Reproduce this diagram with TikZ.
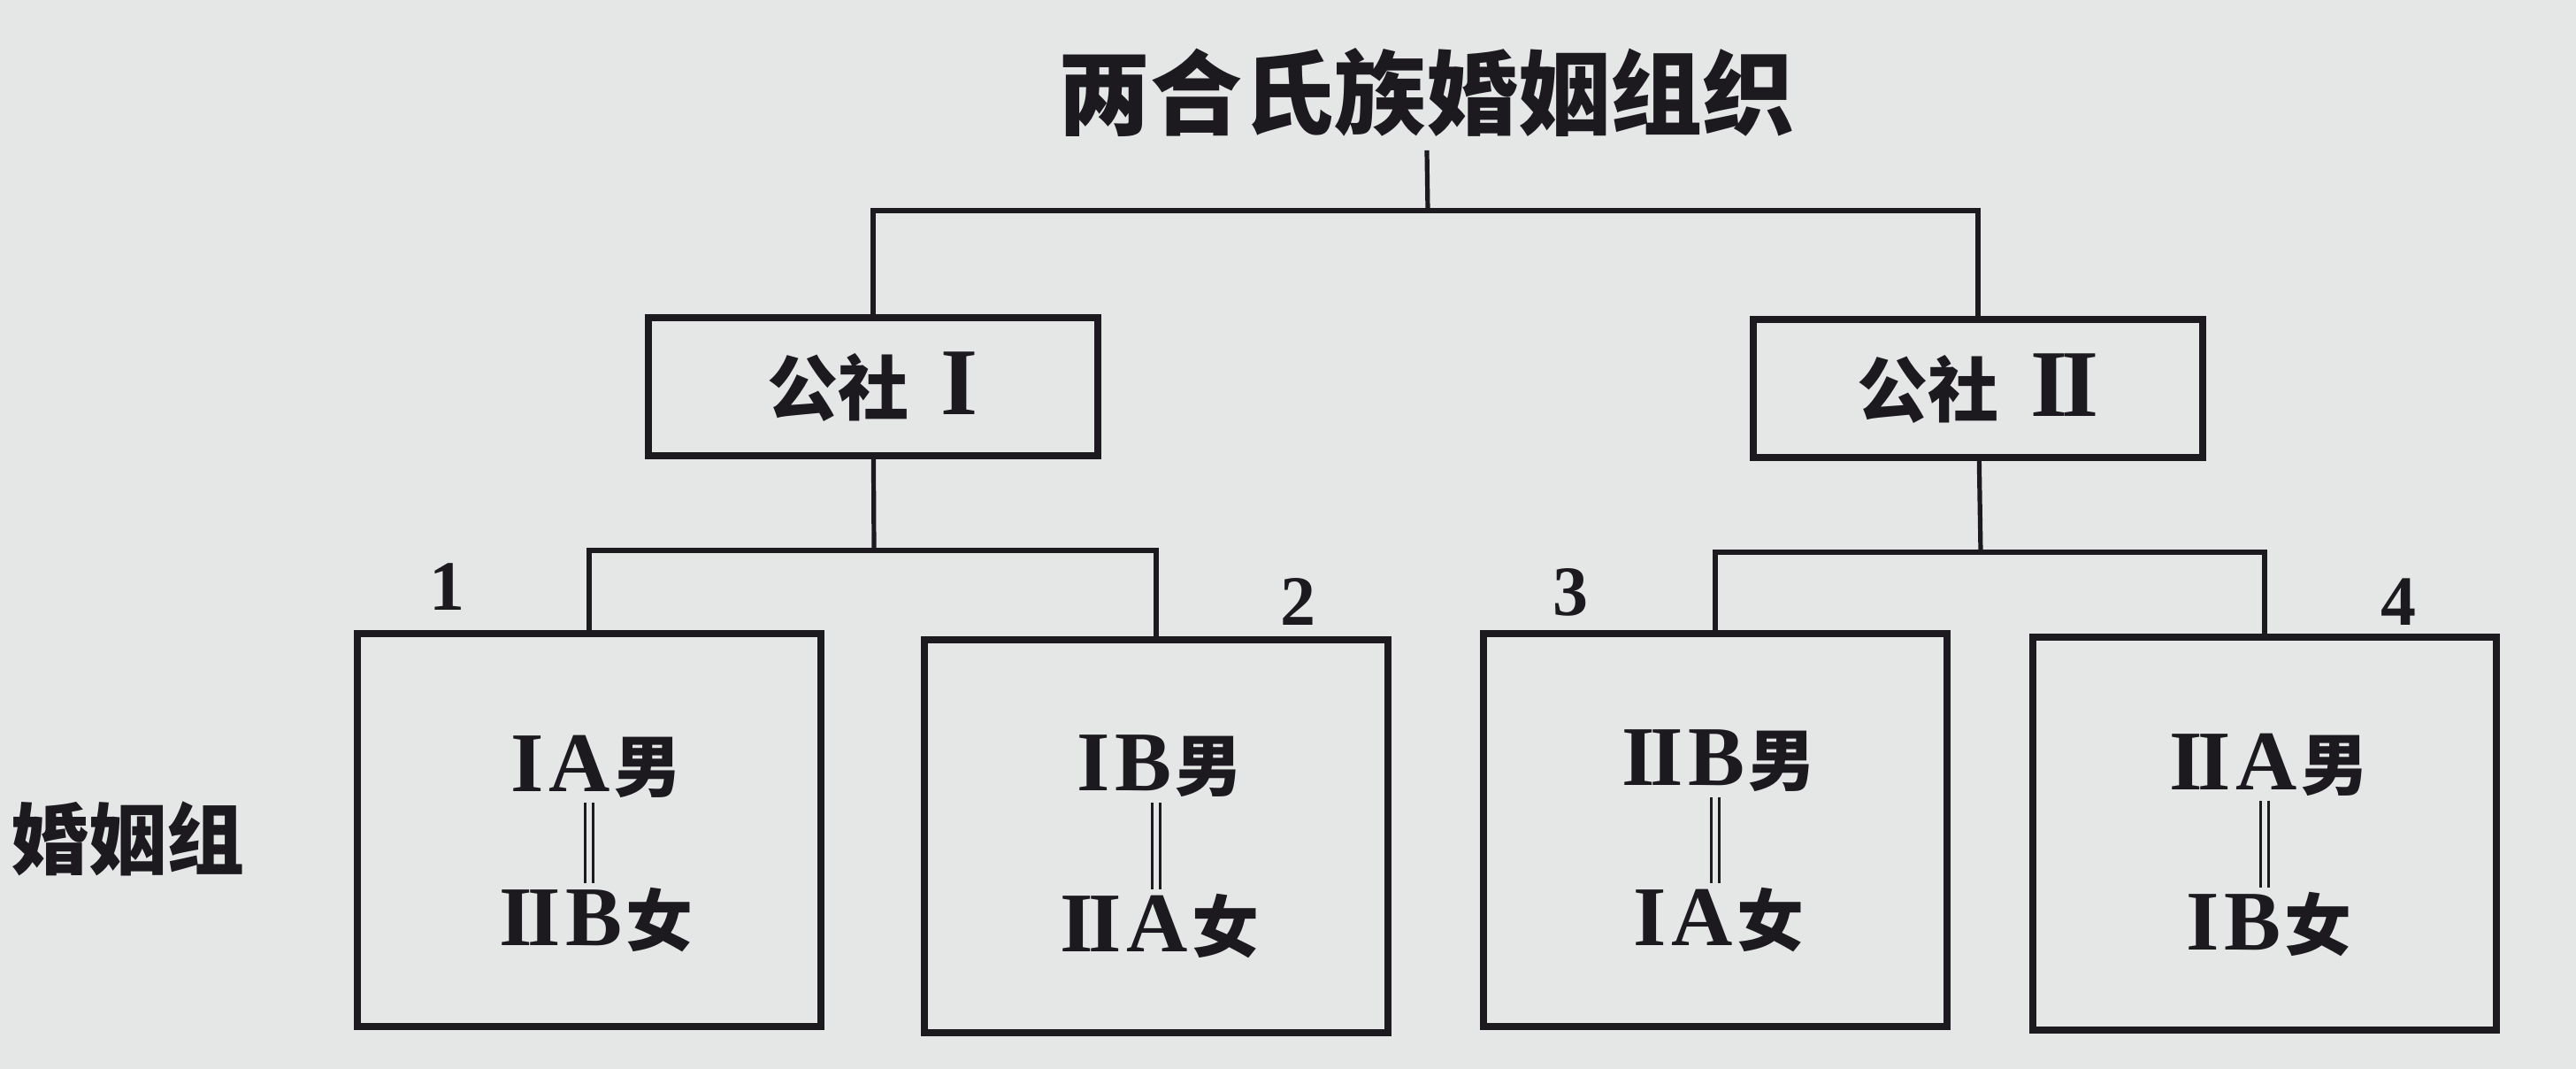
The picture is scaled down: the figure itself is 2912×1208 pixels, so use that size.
\documentclass[tikz,border=0pt]{standalone}
\usepackage{fontspec}
\setmainfont{Liberation Serif}
\newfontfamily\cjk{Noto Sans CJK SC}
\definecolor{paper}{RGB}{229,231,231}
\definecolor{ink}{RGB}{28,26,30}
\newcommand{\romI}{{\rmfamily\bfseries I}}
\newcommand{\romII}{{\rmfamily\bfseries I\kern-.06em I}}
\newcommand{\mem}[3]{{\fontsize{24}{24}\selectfont #1\kern1.5pt\textbf{#2}}\kern1pt{\cjk\bfseries\fontsize{19}{19}\selectfont #3}}
\tikzset{every picture/.style={line width=0.75pt}}
\tikzset{
	box/.style={draw=ink, line width=1.8pt, fill=paper, inner sep=0pt},
	commune/.style={box, minimum width=127pt, minimum height=39pt, font=\cjk\bfseries\fontsize{20}{20}\selectfont, text=ink},
	group/.style={box, minimum width=131pt, minimum height=111pt},
	member/.style={text=ink, inner sep=1pt},
	link/.style={draw=ink, line width=1.3pt},
	mate/.style={draw=ink, double=paper, line width=0.9pt, double distance=1.4pt},
	num/.style={text=ink, font=\bfseries\fontsize{20}{20}\selectfont}
}

\begin{document}
\begin{tikzpicture}[x=0.25pt,y=0.25pt,yscale=-1,xscale=1]
	%background
	\fill [paper] (0,0) rectangle (2912,1208);
	\useasboundingbox (0,0) rectangle (2912,1208);

	% Text Node
	\node [text=ink, font=\cjk\bfseries\fontsize{26}{26}\selectfont] (title) at (1612,105) {两合氏族婚姻组织};
	% Text Node
	\node [text=ink, font=\cjk\bfseries\fontsize{22}{22}\selectfont] (label) at (144,948) {婚姻组};

	%Shape: Rectangle
	\node [commune] (c1) at (987,437) {公社\hspace{9pt}{\fontsize{27}{27}\selectfont\romI}};
	%Shape: Rectangle
	\node [commune] (c2) at (2236,439) {公社\hspace{9pt}{\fontsize{27}{27}\selectfont\romII}};

	%Shape: Rectangle
	\node [group] (g1) at (666,938) {};
	\node [group] (g2) at (1307,945) {};
	\node [group] (g3) at (1939,938) {};
	\node [group] (g4) at (2560,942) {};

	% Text Node
	\node [num] (n1) at (505,663) {1};
	\node [num] (n2) at (1467,680) {2};
	\node [num] (n3) at (1775,669) {3};
	\node [num] (n4) at (2711,680) {4};

	% Text Node
	\node [member] (m1) at (674,866) {\mem{\romI}{A}{男}};
	\node [member] (f1) at (674,1040) {\mem{\romII}{B}{女}};
	\node [member] (m2) at (1311,866) {\mem{\romI}{B}{男}};
	\node [member] (f2) at (1311,1047) {\mem{\romII}{A}{女}};
	\node [member] (m3) at (1943,860) {\mem{\romII}{B}{男}};
	\node [member] (f3) at (1943,1040) {\mem{\romI}{A}{女}};
	\node [member] (m4) at (2565,864) {\mem{\romII}{A}{男}};
	\node [member] (f4) at (2565,1045) {\mem{\romI}{B}{女}};

	%Straight Lines
	\coordinate (top) at (1614,238);
	\coordinate (mid1) at (988,622);
	\coordinate (mid2) at (2239,624);
	\draw [link] (title) -- (top);
	\draw [link] (c1) |- (top) -| (c2);
	\draw [link] (c1) -- (mid1);
	\draw [link] (g1) |- (mid1) -| (g2);
	\draw [link] (c2) -- (mid2);
	\draw [link] (g3) |- (mid2) -| (g4);

	%Double Lines
	\draw [mate] (m1.south -| g1.center) -- (f1.north -| g1.center);
	\draw [mate] (m2.south -| g2.center) -- (f2.north -| g2.center);
	\draw [mate] (m3.south -| g3.center) -- (f3.north -| g3.center);
	\draw [mate] (m4.south -| g4.center) -- (f4.north -| g4.center);

\end{tikzpicture}
\end{document}
